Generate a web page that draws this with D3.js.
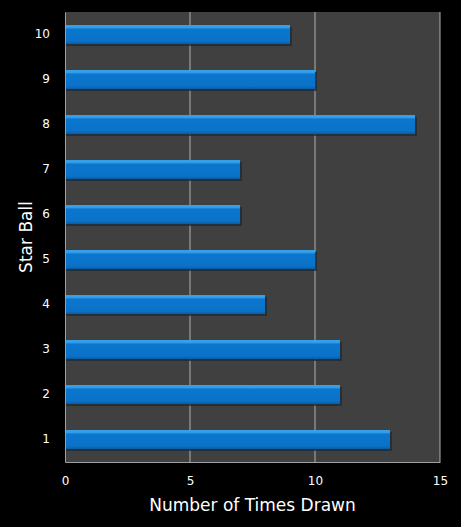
<!DOCTYPE html>
<html>
<head>
<meta charset="utf-8">
<script src="https://cdn.jsdelivr.net/npm/d3@7"></script>
<style>
  html, body { margin: 0; padding: 0; background: #000; }
  text { font-family: "DejaVu Sans", Verdana, sans-serif; fill: #fff; }
</style>
</head>
<body>
<script>
var width = 461, height = 527;

var balls = ["1", "2", "3", "4", "5", "6", "7", "8", "9", "10"];
var timesDrawn = [13, 11, 11, 8, 10, 7, 7, 14, 10, 9];
var xTicks = [0, 5, 10, 15];

var margin = {top: 12, right: 21, bottom: 65, left: 65};
var plotW = width - margin.left - margin.right;
var plotH = height - margin.top - margin.bottom;

var rows = balls.map(function(b, i) { return {ball: b, value: timesDrawn[i]}; });

var svg = d3.select("body").append("svg")
  .attr("width", width)
  .attr("height", height);

var defs = svg.append("defs");
var grad = defs.append("linearGradient")
  .attr("id", "barGrad")
  .attr("x1", 0).attr("y1", 0).attr("x2", 0).attr("y2", 1);
grad.append("stop").attr("offset", "0%").attr("stop-color", "#3aa6ee");
grad.append("stop").attr("offset", "16%").attr("stop-color", "#2a9ae8");
grad.append("stop").attr("offset", "20%").attr("stop-color", "#0c76ce");
grad.append("stop").attr("offset", "85%").attr("stop-color", "#0a72c8");
grad.append("stop").attr("offset", "100%").attr("stop-color", "#0b5da8");

var x = d3.scaleLinear().domain([0, 15]).range([0, plotW]);
var y = d3.scaleBand().domain(balls.slice().reverse()).range([0, plotH]).paddingInner(0.58).paddingOuter(0.29);

var g = svg.append("g").attr("transform", "translate(" + margin.left + "," + margin.top + ")");

// plot background
g.append("rect")
  .attr("width", plotW)
  .attr("height", plotH)
  .attr("fill", "#404040");

// gridlines
g.selectAll(".grid")
  .data(xTicks.slice(1))
  .enter().append("line")
  .attr("x1", function(d) { return x(d); })
  .attr("x2", function(d) { return x(d); })
  .attr("y1", 0)
  .attr("y2", plotH)
  .attr("stroke", "#b0b0b0")
  .attr("stroke-width", 1);

// bar shadows
g.selectAll(".shadow")
  .data(rows)
  .enter().append("rect")
  .attr("x", 0)
  .attr("y", function(d) { return y(d.ball) + 2; })
  .attr("width", function(d) { return x(d.value) + 2; })
  .attr("height", y.bandwidth())
  .attr("fill", "#1e2a36")
  .attr("opacity", 0.8);

// bars
g.selectAll(".bar")
  .data(rows)
  .enter().append("rect")
  .attr("x", 0)
  .attr("y", function(d) { return y(d.ball); })
  .attr("width", function(d) { return x(d.value); })
  .attr("height", y.bandwidth())
  .attr("fill", "url(#barGrad)");

// axes
var xAxis = d3.axisBottom(x).tickValues(xTicks).tickSize(0).tickPadding(14);
var gx = g.append("g").attr("transform", "translate(0," + plotH + ")").call(xAxis);
gx.select(".domain").attr("stroke", "#a0a0a0");
gx.selectAll("text").style("font-size", "12px").attr("fill", "#fff");

var yAxis = d3.axisLeft(y).tickSize(0).tickPadding(15);
var gy = g.append("g").call(yAxis);
gy.select(".domain").attr("stroke", "#a0a0a0");
gy.selectAll("text").style("font-size", "12px").attr("fill", "#fff");

// axis titles
svg.append("text")
  .attr("x", margin.left + plotW / 2)
  .attr("y", 511)
  .attr("text-anchor", "middle")
  .style("font-size", "17px")
  .text("Number of Times Drawn");

svg.append("text")
  .attr("transform", "translate(32," + (margin.top + plotH / 2) + ") rotate(-90)")
  .attr("text-anchor", "middle")
  .style("font-size", "17px")
  .text("Star Ball");
</script>
</body>
</html>
